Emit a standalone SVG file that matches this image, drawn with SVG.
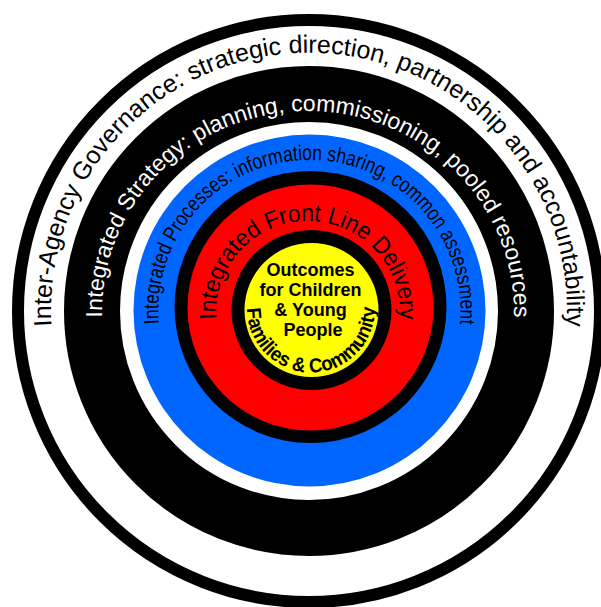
<svg xmlns="http://www.w3.org/2000/svg" xmlns:xlink="http://www.w3.org/1999/xlink" width="601" height="607" viewBox="0 0 601 607">
  <style>
    .lbl { font-family: "Liberation Sans", Arial, sans-serif; }
    .bold { font-weight: bold; }
  </style>
  <defs>
    <!-- baseline arcs for the ring labels -->
    <path id="arcGov" d="M 51.5 326.75 A 258 258 0 1 1 566.5 326.75"/>
    <path id="arcStrat" d="M 102.5 326 A 206 201 0 1 1 513.5 326"/>
    <path id="arcProc" d="M 159.33 326.78 A 151 151 0 1 1 459.67 326.78"/>
    <path id="arcFront" d="M 216.35 321.02 A 92 92 0 1 1 399.65 321.02"/>
    <path id="arcFam" d="M 247.2 303.4 A 64 64 0 1 0 374.8 303.4"/>
  </defs>

  <rect width="601" height="607" fill="#ffffff"/>

  <g id="governance">
    <circle cx="309" cy="311" r="291" fill="#ffffff" stroke="#000000" stroke-width="12"/>
    <text class="lbl" font-size="25" fill="#000000" text-anchor="middle">
      <textPath href="#arcGov" xlink:href="#arcGov" startOffset="50%">Inter-Agency Governance: strategic direction, partnership and accountability</textPath>
    </text>
  </g>

  <g id="strategy">
    <circle cx="309" cy="311" r="217" fill="none" stroke="#000000" stroke-width="56"/>
    <text class="lbl" font-size="23" fill="#ffffff" text-anchor="middle">
      <textPath href="#arcStrat" xlink:href="#arcStrat" startOffset="50%">Integrated Strategy: planning, commissioning, pooled resources</textPath>
    </text>
  </g>

  <g id="processes">
    <circle cx="309.5" cy="310.5" r="176" fill="#0066ff"/>
    <text class="lbl" font-size="21.5" fill="#000000">
      <textPath href="#arcProc" xlink:href="#arcProc" startOffset="3" textLength="500" lengthAdjust="spacingAndGlyphs">Integrated Processes: information sharing, common assessment</textPath>
    </text>
  </g>

  <g id="front-line">
    <circle cx="310.5" cy="307" r="136" fill="#000000"/>
    <circle cx="310.5" cy="307.5" r="123" fill="#ff0000"/>
    <text class="lbl" font-size="24" fill="#000000">
      <textPath href="#arcFront" xlink:href="#arcFront" startOffset="2" textLength="301" lengthAdjust="spacingAndGlyphs">Integrated Front Line Delivery</textPath>
    </text>
  </g>

  <g id="outcomes">
    <circle cx="311.5" cy="310" r="80" fill="#000000"/>
    <circle cx="311.5" cy="310" r="67" fill="#ffff00"/>
    <text class="lbl bold" font-size="20" fill="#000000">
      <textPath href="#arcFam" xlink:href="#arcFam" startOffset="5" textLength="202" lengthAdjust="spacingAndGlyphs">Families &amp; Community</textPath>
    </text>
    <text class="lbl bold" font-size="18" fill="#000000" text-anchor="middle">
      <tspan x="313" y="276">Outcomes</tspan>
      <tspan x="313" y="296">for Children</tspan>
      <tspan x="313" y="316">&amp; Young</tspan>
      <tspan x="313" y="336">People</tspan>
    </text>
  </g>
</svg>
